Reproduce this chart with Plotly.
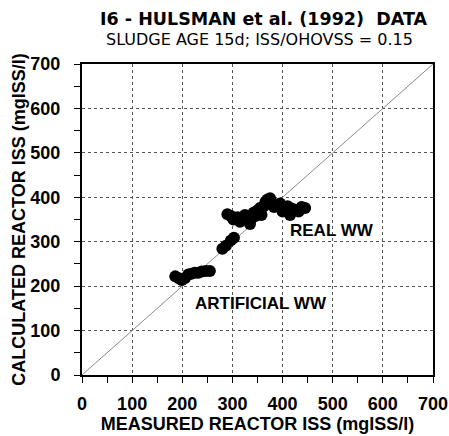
"""
Hulsman et al. (1992) 數據：計算 vs 實測反應器 ISS
"""

import plotly.graph_objects as go

# ── 資料 ──
artificial_measured = [186, 193, 199, 205, 212, 218, 225, 232, 239, 247, 255,
                       280, 287, 297, 303]
artificial_calculated = [222, 218, 214, 218, 226, 228, 230, 230, 233, 234, 234,
                         284, 291, 303, 309]

real_measured = [290, 297, 302, 310, 315, 320, 325, 330, 335, 338, 342, 346,
                 350, 355, 358, 362, 366, 370, 375, 378, 383, 388, 395, 400,
                 405, 410, 415, 418, 425, 432, 438, 445]
real_calculated = [362, 358, 350, 355, 345, 350, 360, 355, 340, 352, 365, 358,
                   370, 376, 360, 380, 390, 395, 398, 385, 378, 383, 386, 368,
                   372, 380, 360, 375, 372, 368, 378, 376]

unity_line = [0, 700]
tick_vals = [0, 100, 200, 300, 400, 500, 600, 700]

FONT = "Liberation Sans, Arial, sans-serif"
WIDE = "DejaVu Sans, Liberation Sans, sans-serif"
BOLD = dict(family=FONT, size=18, color="black", weight="bold")

fig = go.Figure()

# 1:1 線
fig.add_trace(go.Scatter(
    x=unity_line, y=unity_line, mode="lines",
    line=dict(color="#8a8a8a", width=1),
    showlegend=False, hoverinfo="skip",
))

for xs, ys in [(artificial_measured, artificial_calculated),
               (real_measured, real_calculated)]:
    fig.add_trace(go.Scatter(
        x=xs, y=ys, mode="markers",
        marker=dict(color="black", size=12),
        showlegend=False,
    ))

axis_common = dict(
    range=[0, 700],
    tickvals=tick_vals,
    automargin=False,
    showgrid=True, gridcolor="#555555", griddash="dot", gridwidth=1,
    zeroline=False,
    showline=True, linecolor="black", linewidth=2, mirror=True,
    ticks="outside", ticklen=6, tickwidth=1, tickcolor="black",
    minor=dict(dtick=50, ticks="outside", ticklen=6, tickcolor="black", showgrid=False),
    tickfont=BOLD,
)

fig.update_xaxes(
    **axis_common,
    ticklabelstandoff=5,
    title=dict(text="MEASURED REACTOR ISS (mgISS/l)", standoff=3, font=BOLD),
)
fig.update_yaxes(
    **axis_common,
    ticklabelstandoff=10,
    title=dict(text="CALCULATED REACTOR ISS (mgISS/l)", standoff=0, font=BOLD),
)

fig.add_annotation(x=498, y=326, text="REAL WW", showarrow=False,
                   font=dict(family=FONT, size=17, color="black", weight="bold"))
fig.add_annotation(x=357, y=162, text="ARTIFICIAL WW", showarrow=False,
                   font=dict(family=FONT, size=17, color="black", weight="bold"))

# 標題
fig.add_annotation(xref="paper", yref="paper", x=0.516, y=1.0, yshift=45,
                   text="I6 - HULSMAN et al. (1992)  DATA", showarrow=False,
                   yanchor="middle",
                   font=dict(family=WIDE, size=17.5, color="black", weight="bold"))
fig.add_annotation(xref="paper", yref="paper", x=0.507, y=1.0, yshift=25,
                   text="SLUDGE AGE 15d; ISS/OHOVSS = 0.15", showarrow=False,
                   yanchor="middle",
                   font=dict(family=WIDE, size=16, color="black"))

fig.update_layout(
    width=449, height=436,
    margin=dict(l=82, r=16, t=64, b=61),
    plot_bgcolor="white", paper_bgcolor="white",
    showlegend=False,
)

# 去掉 body 預設 8px 邊距，讓圖貼齊視窗
fig.write_html("out.html", config={"displayModeBar": False},
               post_script="document.body.style.margin = '0';")
